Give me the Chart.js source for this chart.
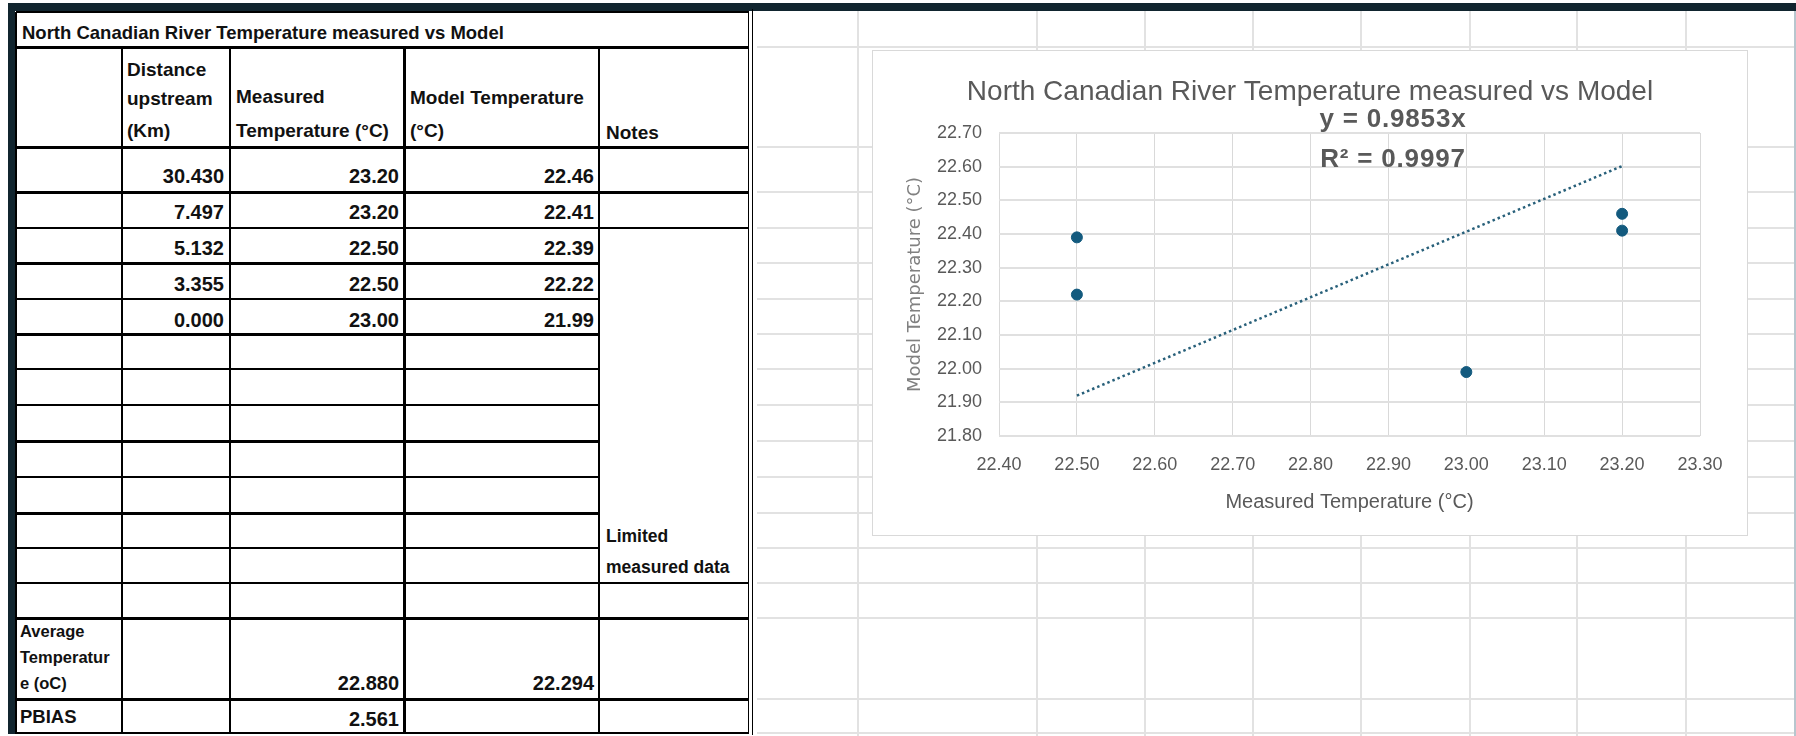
<!DOCTYPE html>
<html>
<head>
<meta charset="utf-8">
<title>North Canadian River Temperature measured vs Model</title>
<script src="https://cdn.jsdelivr.net/npm/chart.js@4.4.1/dist/chart.umd.min.js"></script>
<style>
  html, body { margin: 0; padding: 0; background: #fff; }
  #sheet { position: relative; width: 1796px; height: 736px; overflow: hidden; background: #fff;
           font-family: "Liberation Sans", Arial, sans-serif; }
  .ln { position: absolute; background: #000; }
  .gl { position: absolute; background: #e2e2e2; }
  .fr { position: absolute; background: #11252f; }
  .tx { position: absolute; white-space: nowrap; font-weight: bold; color: #111; }
  #chartBox { position: absolute; left: 872px; top: 50px; width: 874px; height: 484px;
              border: 1px solid #d9d9d9; background: #fff; z-index: 2; }
  #chartBox canvas { display: block; }
</style>
</head>
<body>
<div id="sheet"></div>
<script>
// ---------- data ----------
const distanceKm   = [30.430, 7.497, 5.132, 3.355, 0.000];
const measuredTemp = [23.20, 23.20, 22.50, 22.50, 23.00];
const modelTemp    = [22.46, 22.41, 22.39, 22.22, 21.99];
const xAxisRange   = [22.40, 23.30];
const yAxisRange   = [21.80, 22.70];
const tickStep     = 0.10;
const chartTitle   = 'North Canadian River Temperature measured vs Model';
const trendText    = ['y = 0.9853x', 'R\u00b2 = 0.9997'];
const noteText     = ['Limited', 'measured data'];

// summary rows of the sheet
const mean = a => a.reduce((s, v) => s + v, 0) / a.length;
const avgMeasured = mean(measuredTemp);
const avgModel = mean(modelTemp);
const pbias = 100 * measuredTemp.reduce((s, v, i) => s + (v - modelTemp[i]), 0) /
              measuredTemp.reduce((s, v) => s + v, 0);

// ---------- spreadsheet background ----------
const sheet = document.getElementById('sheet');
function rect(cls, x, y, w, h) {
  const d = document.createElement('div');
  d.className = cls;
  d.style.left = x + 'px'; d.style.top = y + 'px';
  d.style.width = w + 'px'; d.style.height = h + 'px';
  sheet.appendChild(d);
  return d;
}
function hLine(cls, y, x0, x1, t) { rect(cls, x0, Math.round(y - t / 2), x1 - x0, t); }
function vLine(cls, x, y0, y1, t) { rect(cls, Math.round(x - t / 2), y0, t, y1 - y0); }

// cell grid right of the table
const rowEdges = [47, 147, 192, 228, 263, 299, 334, 369, 405, 441, 477, 513, 548, 583, 618, 699, 733];
const colEdges = [858, 1037, 1145, 1253, 1361, 1470, 1577, 1686];
rowEdges.forEach(y => hLine('gl', y, 757, 1794, 2));
colEdges.forEach(x => vLine('gl', x, 11, 736, 2));

// window frame
rect('fr', 8, 3, 1788, 8);
rect('fr', 8, 3, 7, 731);
const edge = rect('gl', 1794, 11, 2, 725); edge.style.background = '#b7c6ce';

// table borders
const TL = 16, TR = 749, NOTES = 599;
[
  [12, TL, TR, 2], [47, TL, TR, 3], [147, TL, TR, 3], [192, TL, TR, 3], [228, TL, TR, 2],
  [263, TL, NOTES, 3], [299, TL, NOTES, 2], [334, TL, NOTES, 3], [369, TL, NOTES, 2],
  [405, TL, NOTES, 2], [441, TL, NOTES, 3], [477, TL, NOTES, 2], [513, TL, NOTES, 3],
  [548, TL, NOTES, 2], [583, TL, TR, 2], [618, TL, TR, 3], [699, TL, TR, 3], [733, TL, TR, 2]
].forEach(([y, a, b, t]) => hLine('ln', y, a, b, t));
[
  [16, 12, 734, 2], [122, 47, 734, 2], [230, 47, 734, 2], [404, 47, 734, 3],
  [599, 47, 734, 2], [748, 11, 734, 1], [752, 9, 735, 1]
].forEach(([x, a, b, t]) => vLine('ln', x, a, b, t));

// table text: cy is the vertical centre of the capitals
function text(str, x, cy, size, align) {
  const d = document.createElement('div');
  d.className = 'tx';
  d.textContent = str;
  d.style.fontSize = size + 'px';
  d.style.lineHeight = size + 'px';
  d.style.height = size + 'px';
  d.style.top = (cy - 0.49 * size) + 'px';
  if (align === 'right') {
    d.style.left = (x - 300) + 'px'; d.style.width = '300px'; d.style.textAlign = 'right';
  } else {
    d.style.left = x + 'px';
  }
  sheet.appendChild(d);
}
text(chartTitle, 22, 33, 18.5);
text('Distance', 127, 69, 19);
text('upstream', 127, 98, 19);
text('(Km)', 127, 130, 19);
text('Measured', 236, 96, 19);
text('Temperature (\u00b0C)', 236, 130, 19);
text('Model Temperature', 410, 97, 19);
text('(\u00b0C)', 410, 130, 19);
text('Notes', 606, 132, 19);

const rowCentres = [176, 212, 247.5, 283.5, 319.5];
distanceKm.forEach((v, i) => {
  text(v.toFixed(3), 224, rowCentres[i], 20, 'right');
  text(measuredTemp[i].toFixed(2), 399, rowCentres[i], 20, 'right');
  text(modelTemp[i].toFixed(2), 594, rowCentres[i], 20, 'right');
});
text(noteText[0], 606, 537, 17.5);
text(noteText[1], 606, 568, 17.5);
text('Average', 20, 631, 16.5);
text('Temperatur', 20, 657, 16.5);
text('e (oC)', 20, 683, 16.5);
text(avgMeasured.toFixed(3), 399, 683, 20, 'right');
text(avgModel.toFixed(3), 594, 683, 20, 'right');
text('PBIAS', 20, 717.5, 18.5);
text(pbias.toFixed(3), 399, 719, 20, 'right');

// ---------- chart ----------
const box = document.createElement('div');
box.id = 'chartBox';
const canvas = document.createElement('canvas');
canvas.width = 874; canvas.height = 484;
box.appendChild(canvas);
sheet.appendChild(box);

const points = measuredTemp.map((x, i) => ({ x, y: modelTemp[i] }));
// linear trendline through the origin (least squares)
const slope = measuredTemp.reduce((s, x, i) => s + x * modelTemp[i], 0) /
              measuredTemp.reduce((s, x) => s + x * x, 0);
const xLo = Math.min(...measuredTemp), xHi = Math.max(...measuredTemp);
const trendPoints = [{ x: xLo, y: slope * xLo }, { x: xHi, y: slope * xHi }];

const grey = '#595959';
const baseFont = 'Liberation Sans';

const trendLabelPlugin = {
  id: 'trendLabel',
  afterDatasetsDraw(chart) {
    const { ctx, chartArea } = chart;
    const cx = chartArea.left + 0.562 * (chartArea.right - chartArea.left);
    ctx.save();
    ctx.font = 'bold 26px "' + baseFont + '"';
    ctx.fillStyle = grey;
    ctx.textAlign = 'center';
    ctx.textBaseline = 'middle';
    ctx.letterSpacing = '0.8px';
    ctx.fillText(trendText[0], cx, chartArea.top - 13);
    ctx.fillText(trendText[1], cx, chartArea.top + 27);
    ctx.restore();
  }
};

new Chart(canvas, {
  type: 'scatter',
  data: {
    datasets: [
      {
        label: 'Model vs measured',
        data: points,
        pointRadius: 5.5,
        pointHoverRadius: 5.5,
        backgroundColor: '#135a7e',
        borderColor: '#135a7e',
        order: 1
      },
      {
        label: 'Linear trend',
        data: trendPoints,
        showLine: true,
        pointRadius: 0,
        borderColor: '#28607a',
        borderWidth: 2.5,
        borderDash: [2.5, 3],
        fill: false,
        order: 2
      }
    ]
  },
  options: {
    responsive: false,
    animation: false,
    devicePixelRatio: 1,
    layout: { padding: 0 },
    plugins: {
      legend: { display: false },
      tooltip: { enabled: false },
      title: {
        display: true,
        text: chartTitle,
        color: grey,
        font: { family: baseFont, size: 28, weight: 'normal' },
        padding: { top: 24, bottom: 24.4 }
      }
    },
    scales: {
      x: {
        type: 'linear',
        position: 'bottom',
        min: xAxisRange[0],
        max: xAxisRange[1],
        afterFit: s => { s.height = 99; },
        ticks: {
          stepSize: tickStep, padding: 18, color: grey, maxRotation: 0, autoSkip: false,
          font: { family: baseFont, size: 18 },
          callback: v => Number(v).toFixed(2)
        },
        grid: { color: '#d9d9d9', lineWidth: 1, drawTicks: false },
        border: { display: false },
        title: {
          display: true, text: 'Measured Temperature (\u00b0C)', color: grey,
          font: { family: baseFont, size: 20 }, padding: { top: 0, bottom: 21 }
        }
      },
      y: {
        type: 'linear',
        position: 'left',
        min: yAxisRange[0],
        max: yAxisRange[1],
        afterFit: s => { s.width = 126; },
        ticks: {
          stepSize: tickStep, padding: 17, color: grey,
          font: { family: baseFont, size: 18 },
          callback: v => Number(v).toFixed(2)
        },
        grid: { color: '#e0e0e0', lineWidth: 2, drawTicks: false },
        border: { display: false },
        title: {
          display: true, text: 'Model Temperature (\u00b0C)', color: '#808080',
          font: { family: 'DejaVu Sans', size: 18 }, padding: { top: 32, bottom: 0 }
        }
      },
      yRight: {
        type: 'linear',
        position: 'right',
        display: true,
        grid: { display: false, drawTicks: false },
        ticks: { display: false },
        border: { display: false },
        afterFit: s => { s.width = 47; }
      }
    }
  },
  plugins: [trendLabelPlugin]
});
</script>
</body>
</html>
